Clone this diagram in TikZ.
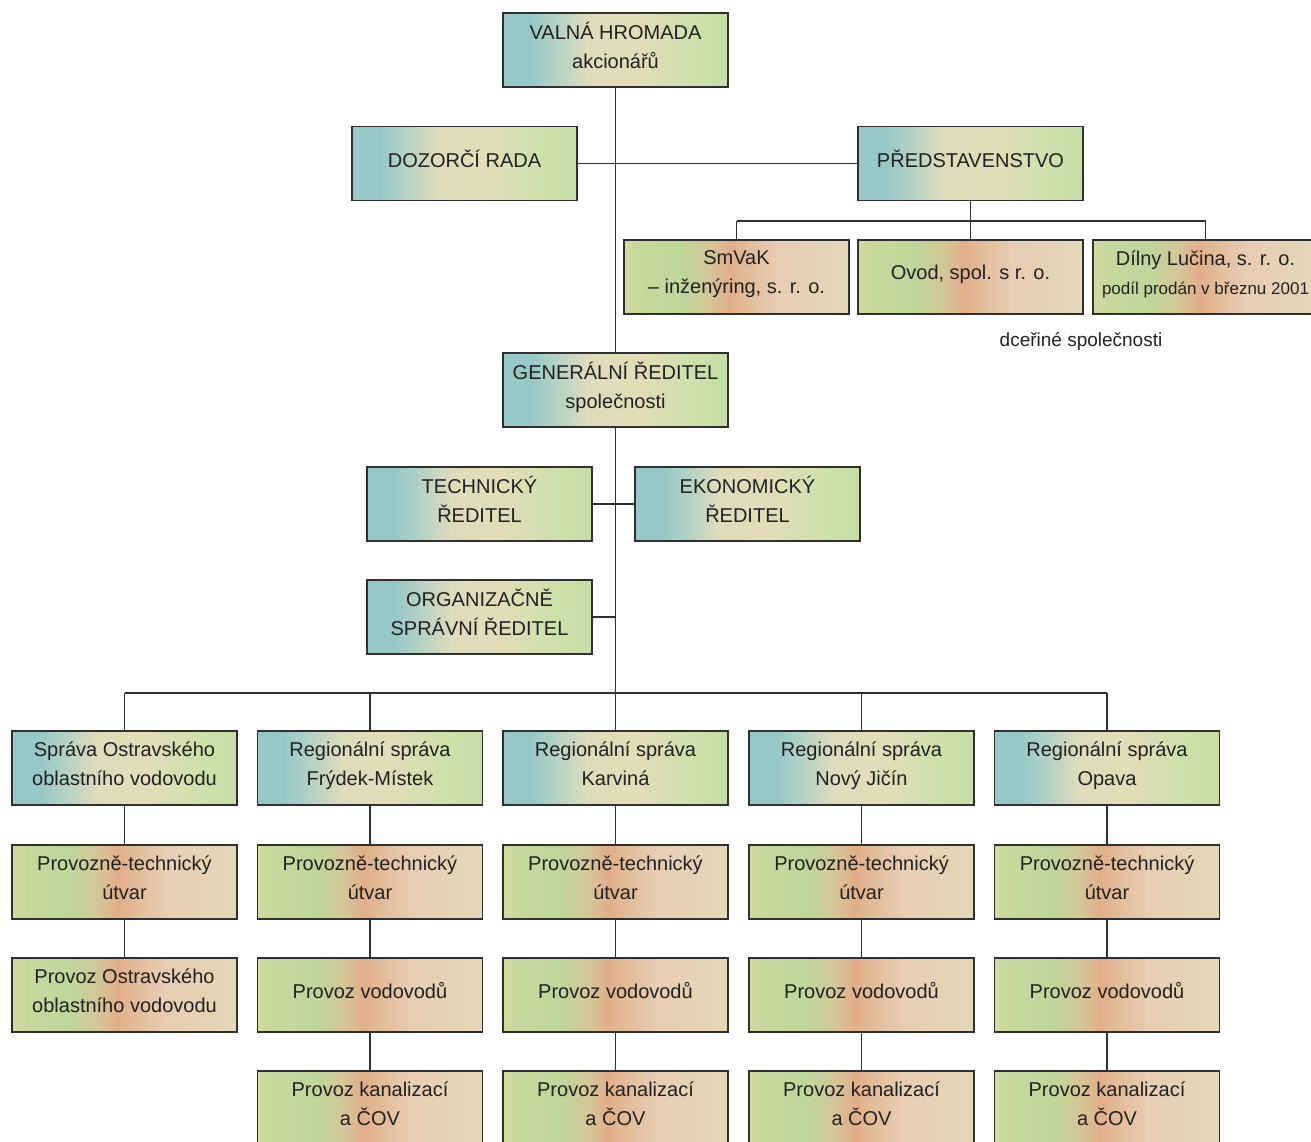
\documentclass[tikz,border=0pt]{standalone}
\usepackage{fontspec}
\setmainfont{Liberation Sans}
\definecolor{b0}{HTML}{96C8C8}
\definecolor{b1}{HTML}{AACFC6}
\definecolor{b2}{HTML}{DFDCBC}
\definecolor{b3}{HTML}{E2DDB8}
\definecolor{b4}{HTML}{CDE0AA}
\definecolor{b5}{HTML}{C4DDA6}
\definecolor{o0}{HTML}{D2DA9E}
\definecolor{o1}{HTML}{C6D89C}
\definecolor{o2}{HTML}{BDD79B}
\definecolor{o3}{HTML}{D4C697}
\definecolor{o4}{HTML}{E2AE8A}
\definecolor{o4b}{HTML}{E2BC98}
\definecolor{o5}{HTML}{E7CDB3}
\definecolor{o6}{HTML}{E3D8B8}
\definecolor{txt}{HTML}{222222}
\definecolor{edge}{HTML}{303030}
\pgfdeclarehorizontalshading{blueish}{100bp}{color(0bp)=(b0); color(25bp)=(b0); color(31bp)=(b0); color(35bp)=(b1); color(44bp)=(b2); color(55bp)=(b3); color(67.5bp)=(b4); color(75bp)=(b5); color(100bp)=(b5)}
\pgfdeclarehorizontalshading{orangish}{100bp}{color(0bp)=(o0); color(25bp)=(o0); color(29bp)=(o1); color(37.5bp)=(o2); color(44bp)=(o3); color(48.5bp)=(o4); color(52.5bp)=(o4b); color(59bp)=(o5); color(75bp)=(o6); color(100bp)=(o6)}
\tikzset{
  x=1pt, y=-1pt,
  boxb/.style={draw=edge, line width=1.4pt, shading=blueish, minimum width=225pt, minimum height=74pt, align=center, text=txt, font=\fontsize{20}{29}\selectfont, inner sep=0pt, text depth=9pt},
  boxo/.style={boxb, shading=orangish},
  conn/.style={draw=edge, line width=1.3pt}
}
\begin{document}
\begin{tikzpicture}
\useasboundingbox (0,0) rectangle (1311,1141);
% top
\node[boxb] (vh) at (615.5,50) {VALNÁ HROMADA\\akcionářů};
\node[boxb] (dr) at (464.5,163.5) {DOZORČÍ RADA};
\node[boxb] (pr) at (970.5,163.5) {PŘEDSTAVENSTVO};
\node[boxo] (sm) at (736.5,277) {SmVaK\\– inženýring, s. r. o.};
\node[boxo] (ov) at (970.5,277) {Ovod, spol. s r. o.};
\node[boxo] (dl) at (1205.5,277) {Dílny Lučina, s. r. o.\\{\fontsize{17}{22}\selectfont podíl prodán v březnu 2001}};
\node[text=txt, font=\fontsize{19}{24}\selectfont] (dc) at (1081,341) {dceřiné společnosti};
\node[boxb] (gr) at (615.5,390) {GENERÁLNÍ ŘEDITEL\\společnosti};
\node[boxb] (tr) at (479.5,504) {TECHNICKÝ\\ŘEDITEL};
\node[boxb] (er) at (747.5,504) {EKONOMICKÝ\\ŘEDITEL};
\node[boxb] (or) at (479.5,617) {ORGANIZAČNĚ\\SPRÁVNÍ ŘEDITEL};
% bottom columns
\node[boxb] (a1) at (124.5,768) {Správa Ostravského\\oblastního vodovodu};
\node[boxo] (a2) at (124.5,882) {Provozně-technický\\útvar};
\node[boxo] (a3) at (124.5,995) {Provoz Ostravského\\oblastního vodovodu};
\node[boxb] (b1) at (370,768) {Regionální správa\\Frýdek-Místek};
\node[boxo] (b2) at (370,882) {Provozně-technický\\útvar};
\node[boxo] (b3) at (370,995) {Provoz vodovodů};
\node[boxo] (b4) at (370,1108) {Provoz kanalizací\\a ČOV};
\node[boxb] (c1) at (615.5,768) {Regionální správa\\Karviná};
\node[boxo] (c2) at (615.5,882) {Provozně-technický\\útvar};
\node[boxo] (c3) at (615.5,995) {Provoz vodovodů};
\node[boxo] (c4) at (615.5,1108) {Provoz kanalizací\\a ČOV};
\node[boxb] (d1) at (861.5,768) {Regionální správa\\Nový Jičín};
\node[boxo] (d2) at (861.5,882) {Provozně-technický\\útvar};
\node[boxo] (d3) at (861.5,995) {Provoz vodovodů};
\node[boxo] (d4) at (861.5,1108) {Provoz kanalizací\\a ČOV};
\node[boxb] (e1) at (1107,768) {Regionální správa\\Opava};
\node[boxo] (e2) at (1107,882) {Provozně-technický\\útvar};
\node[boxo] (e3) at (1107,995) {Provoz vodovodů};
\node[boxo] (e4) at (1107,1108) {Provoz kanalizací\\a ČOV};
% coordinates
\coordinate (bus) at (615.5,693);
\coordinate (sbus) at (970.5,221);
% connectors
\draw[conn] (vh.south) -- (gr.north);
\draw[conn] (dr.east) -- (pr.west);
\draw[conn] (pr.south) -- (sbus);
\draw[conn] (sm.north |- sbus) -- (dl.north |- sbus);
\draw[conn] (sm.north |- sbus) -- (sm.north);
\draw[conn] (ov.north |- sbus) -- (ov.north);
\draw[conn] (dl.north |- sbus) -- (dl.north);
\draw[conn] (gr.south) -- (bus);
\draw[conn] (tr.east) -- (er.west);
\draw[conn] (or.east) -- (or.east -| bus);
\draw[conn] (a1.north |- bus) -- (e1.north |- bus);
\foreach \c in {a,b,c,d,e} {
  \draw[conn] (\c1.north |- bus) -- (\c1.north);
  \draw[conn] (\c1.south) -- (\c2.north);
  \draw[conn] (\c2.south) -- (\c3.north);
}
\foreach \c in {b,c,d,e} {
  \draw[conn] (\c3.south) -- (\c4.north);
}
\end{tikzpicture}
\end{document}
